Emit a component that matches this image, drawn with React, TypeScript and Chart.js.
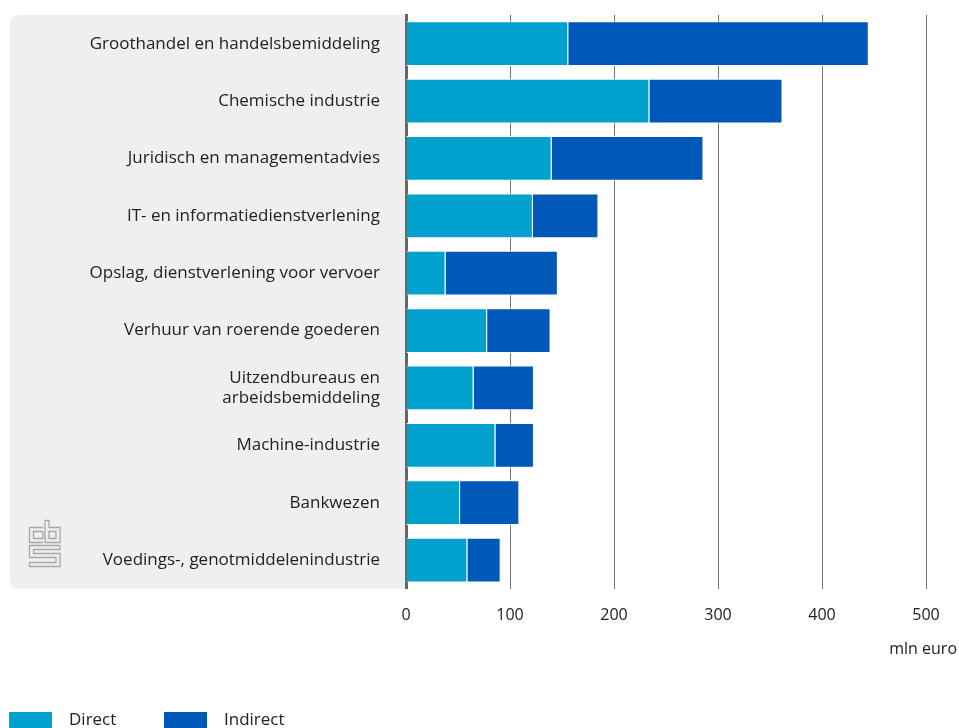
import React, { useEffect, useRef } from "react";
import { Chart, registerables } from "chart.js";

Chart.register(...registerables);

const categories: (string | string[])[] = [
  "Groothandel en handelsbemiddeling",
  "Chemische industrie",
  "Juridisch en managementadvies",
  "IT- en informatiedienstverlening",
  "Opslag, dienstverlening voor vervoer",
  "Verhuur van roerende goederen",
  ["Uitzendbureaus en", "arbeidsbemiddeling"],
  "Machine-industrie",
  "Bankwezen",
  "Voedings-, genotmiddelenindustrie",
];
const directValues = [156, 234, 140, 122, 38, 78, 65, 86, 52, 59];
const indirectValues = [289, 128, 146, 63, 108, 61, 58, 37, 57, 32];
const xTicks = [0, 100, 200, 300, 400, 500];
const seriesNames = ["Direct", "Indirect"];
const seriesColors = ["#00a1cd", "#0058b8"];
const unitLabel = "mln euro";

const FONT = "'Open Sans', sans-serif";
const TEXT = "#222222";

const decorPlugin = {
  id: "decor",
  beforeDraw(chart: any) {
    const { ctx, chartArea } = chart;
    const x0 = 10;
    const x1 = chartArea.left;
    const y0 = chartArea.top;
    const y1 = chartArea.bottom;
    const r = 9;
    ctx.save();
    ctx.fillStyle = "#efefef";
    ctx.beginPath();
    ctx.moveTo(x0 + r, y0);
    ctx.lineTo(x1, y0);
    ctx.lineTo(x1, y1);
    ctx.lineTo(x0 + r, y1);
    ctx.quadraticCurveTo(x0, y1, x0, y1 - r);
    ctx.lineTo(x0, y0 + r);
    ctx.quadraticCurveTo(x0, y0, x0 + r, y0);
    ctx.closePath();
    ctx.fill();

    // CBS logo
    ctx.strokeStyle = "#a8a8a8";
    ctx.lineWidth = 1.3;
    const lx = 29.5, ly = 520.5;
    ctx.beginPath();
    ctx.moveTo(43, ly + 7); ctx.lineTo(lx, ly + 7); ctx.lineTo(lx, ly + 22); ctx.lineTo(43, ly + 22);
    ctx.moveTo(43, ly + 11); ctx.lineTo(lx + 4, ly + 11); ctx.lineTo(lx + 4, ly + 18); ctx.lineTo(43, ly + 18);
    ctx.moveTo(43, ly + 11); ctx.lineTo(43, ly + 18);
    ctx.moveTo(45, ly); ctx.lineTo(45, ly + 22); ctx.lineTo(60, ly + 22); ctx.lineTo(60, ly + 7); ctx.lineTo(49, ly + 7); ctx.lineTo(49, ly); ctx.lineTo(45, ly);
    ctx.rect(49, ly + 11, 7, 7);
    ctx.moveTo(60, ly + 25); ctx.lineTo(lx, ly + 25); ctx.lineTo(lx, ly + 37); ctx.lineTo(56, ly + 37); ctx.lineTo(56, ly + 42); ctx.lineTo(lx, ly + 42); ctx.lineTo(lx, ly + 46); ctx.lineTo(60, ly + 46); ctx.lineTo(60, ly + 33); ctx.lineTo(lx + 4, ly + 33); ctx.lineTo(lx + 4, ly + 29); ctx.lineTo(60, ly + 29); ctx.lineTo(60, ly + 25);
    ctx.stroke();
    ctx.restore();
  },
  afterDraw(chart: any) {
    const { ctx } = chart;
    ctx.save();
    ctx.fillStyle = TEXT;
    ctx.font = `16px ${FONT}`;
    ctx.textAlign = "right";
    ctx.textBaseline = "middle";
    ctx.fillText(unitLabel, 957, 649);

    ctx.textAlign = "left";
    ctx.font = `17px ${FONT}`;
    const positions = [9, 164];
    chart.data.datasets.forEach((ds: any, i: number) => {
      const x = positions[i];
      ctx.fillStyle = ds.backgroundColor;
      ctx.fillRect(x, 712, 43, 18);
      ctx.fillStyle = TEXT;
      ctx.fillText(ds.label, x + 60, 720);
    });
    ctx.restore();
  },
};

export default function App() {
  const ref = useRef<HTMLCanvasElement>(null);
  useEffect(() => {
    if (!ref.current) return;
    const chart = new Chart(ref.current, {
      type: "bar",
      data: {
        labels: categories,
        datasets: [
          {
            label: seriesNames[0],
            data: directValues,
            backgroundColor: seriesColors[0],
            borderColor: "#ffffff",
            borderWidth: 1,
          },
          {
            label: seriesNames[1],
            data: indirectValues,
            backgroundColor: seriesColors[1],
            borderColor: "#ffffff",
            borderWidth: 1,
          },
        ],
      },
      options: {
        indexAxis: "y",
        responsive: false,
        animation: false,
        barPercentage: 0.78,
        categoryPercentage: 1,
        layout: { padding: { top: 15, right: 33, bottom: 86, left: 0 } },
        plugins: {
          legend: { display: false },
          tooltip: { enabled: false },
        },
        scales: {
          x: {
            stacked: true,
            min: 0,
            max: 500,
            afterBuildTicks: (scale: any) => {
              scale.ticks = xTicks.map((v) => ({ value: v }));
            },
            grid: { color: "#777777", lineWidth: 1, drawTicks: false },
            border: { display: false },
            ticks: {
              padding: 17,
              color: TEXT,
              font: { family: FONT, size: 16 },
            },
          },
          y: {
            stacked: true,
            afterFit: (scale: any) => {
              scale.width = 406;
            },
            grid: {
              display: true,
              drawOnChartArea: false,
              drawTicks: true,
              tickLength: 26,
              tickColor: "rgba(0,0,0,0)",
            },
            border: { display: true, color: "#666666", width: 3 },
            ticks: {
              padding: 0,
              color: TEXT,
              font: { family: FONT, size: 17 },
            },
          },
        },
      },
      plugins: [decorPlugin],
    });
    return () => chart.destroy();
  }, []);
  return (
    <div style={{ position: "absolute", left: 0, top: 0, width: 959, height: 728 }}>
      <canvas ref={ref} width={959} height={728} />
    </div>
  );
}
